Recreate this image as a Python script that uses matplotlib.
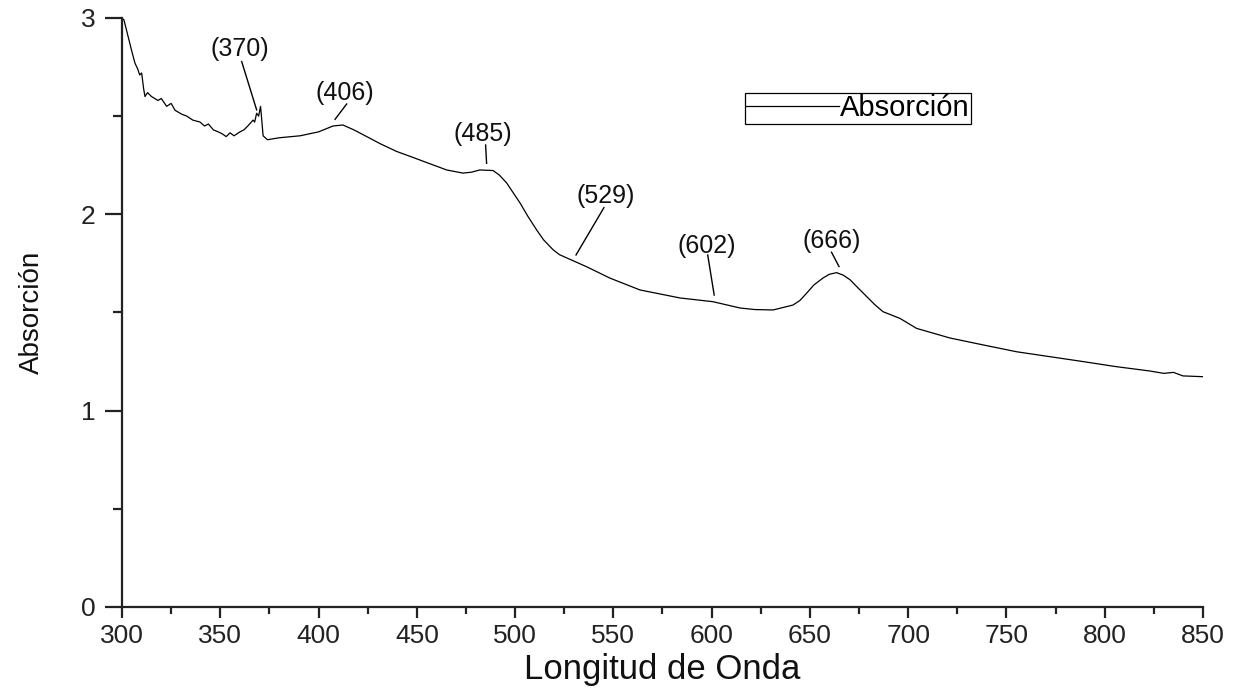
import matplotlib
matplotlib.use("Agg")
import matplotlib.pyplot as plt
from matplotlib.ticker import MultipleLocator

plt.rcParams["font.family"] = ["Liberation Sans", "DejaVu Sans"]

# ----------------- DATOS -----------------
longitud = [300, 301, 302.5, 304, 305, 306.6, 308, 309, 310, 311, 311.7, 313, 315,
            318.3, 320, 322.7, 325, 327, 330.4, 333, 336, 339.7, 342, 344, 346.5,
            349, 351, 353, 355, 357, 360, 362, 364, 366.7, 367.5, 368.5, 369.5,
            370.5, 371.8, 374, 380, 390.6, 400, 407.4, 412.4, 418, 424.5, 431.3,
            439.8, 448, 456, 465.2, 473.5, 478, 482, 488.8, 492, 495.7, 502.5, 506.5,
            511, 514.5, 519.3, 522.5, 526.3, 536.4, 548.3, 563.5, 583.9, 600.7, 614.4,
            622, 631.3, 641.4, 645, 648.3, 652, 656.7, 660, 663.6, 667, 670.4, 674.5,
            678.9, 683, 687.2, 695.8, 704.3, 721.3, 738.1, 755.2, 772.1, 789, 806,
            823, 830, 835, 839.8, 845, 850]
absorcion = [3.00, 2.99, 2.93, 2.87, 2.83, 2.77, 2.74, 2.71, 2.72, 2.64, 2.60, 2.62, 2.60,
             2.58, 2.59, 2.55, 2.565, 2.53, 2.51, 2.50, 2.48, 2.47, 2.45, 2.46, 2.43,
             2.42, 2.41, 2.396, 2.415, 2.40, 2.42, 2.43, 2.45, 2.48, 2.47, 2.515, 2.50,
             2.55, 2.40, 2.38, 2.39, 2.40, 2.42, 2.45, 2.455, 2.43, 2.396, 2.36,
             2.32, 2.29, 2.26, 2.226, 2.21, 2.215, 2.226, 2.223, 2.20, 2.16, 2.058, 1.99,
             1.92, 1.87, 1.82, 1.795, 1.778, 1.733, 1.675, 1.615, 1.574, 1.555, 1.523,
             1.515, 1.513, 1.538, 1.562, 1.598, 1.64, 1.676, 1.695, 1.703, 1.69, 1.667, 1.625,
             1.581, 1.54, 1.504, 1.47, 1.419, 1.37, 1.335, 1.30, 1.275, 1.25, 1.224,
             1.202, 1.19, 1.195, 1.177, 1.175, 1.173]

picos = ["(370)", "(406)", "(485)", "(529)", "(602)", "(666)"]
# posicion del texto y segmento indicador (x0, y0) -> (x1, y1)
texto_xy = [(360, 2.84), (413.5, 2.62), (483.7, 2.41), (546.2, 2.094), (597.6, 1.839), (661.2, 1.864)]
segmentos = [((360.9, 2.778), (368.5, 2.532)),
             ((414.3, 2.562), (408.4, 2.484)),
             ((485.0, 2.353), (485.5, 2.26)),
             ((545.2, 2.034), (531.0, 1.793)),
             ((598.0, 1.793), (601.3, 1.589)),
             ((661.0, 1.807), (664.8, 1.734))]
# -----------------------------------------

fig = plt.figure(figsize=(12.48, 6.93), dpi=100)
ax = fig.add_axes([122 / 1248, 1 - 607 / 693, (1203 - 122) / 1248, (607 - 18) / 693])

ax.plot(longitud, absorcion, color="black", lw=0.9, label="Absorción")

for etiqueta, (tx, ty), ((x0, y0), (x1, y1)) in zip(picos, texto_xy, segmentos):
    ax.text(tx, ty, etiqueta, ha="center", va="center", fontsize=18, color="#111111")
    ax.plot([x0, x1], [y0, y1], color="black", lw=1.0)

ax.set_xlim(300, 850)
ax.set_ylim(0, 3)
ax.xaxis.set_major_locator(MultipleLocator(50))
ax.xaxis.set_minor_locator(MultipleLocator(25))
ax.yaxis.set_major_locator(MultipleLocator(1))
ax.yaxis.set_minor_locator(MultipleLocator(0.5))

for lado in ("top", "right"):
    ax.spines[lado].set_visible(False)
for lado in ("left", "bottom"):
    ax.spines[lado].set_linewidth(1.6)
    ax.spines[lado].set_color("#222222")

ax.tick_params(axis="x", which="major", direction="out", length=8, width=1.6,
               labelsize=19, pad=4, colors="#222222")
ax.tick_params(axis="x", which="minor", direction="out", length=5, width=1.6, colors="#222222")
ax.tick_params(axis="y", which="major", direction="out", length=12, width=1.6,
               labelsize=19, pad=7, colors="#222222")
ax.tick_params(axis="y", which="minor", direction="out", length=6.5, width=1.6, colors="#222222")

ax.set_xlabel("Longitud de Onda", fontsize=25, labelpad=4, color="#111111")
ax.set_ylabel("Absorción", fontsize=20, labelpad=26, color="#111111")

leg = ax.legend(loc="upper left", bbox_to_anchor=(0.576, 0.873), fontsize=21,
                frameon=True, fancybox=False, shadow=False, framealpha=1,
                handlelength=3.2, handletextpad=0.0, borderpad=0.05,
                borderaxespad=0)
leg.get_frame().set_edgecolor("black")
leg.get_frame().set_linewidth(0.9)

fig.savefig("out.png", dpi=100)
